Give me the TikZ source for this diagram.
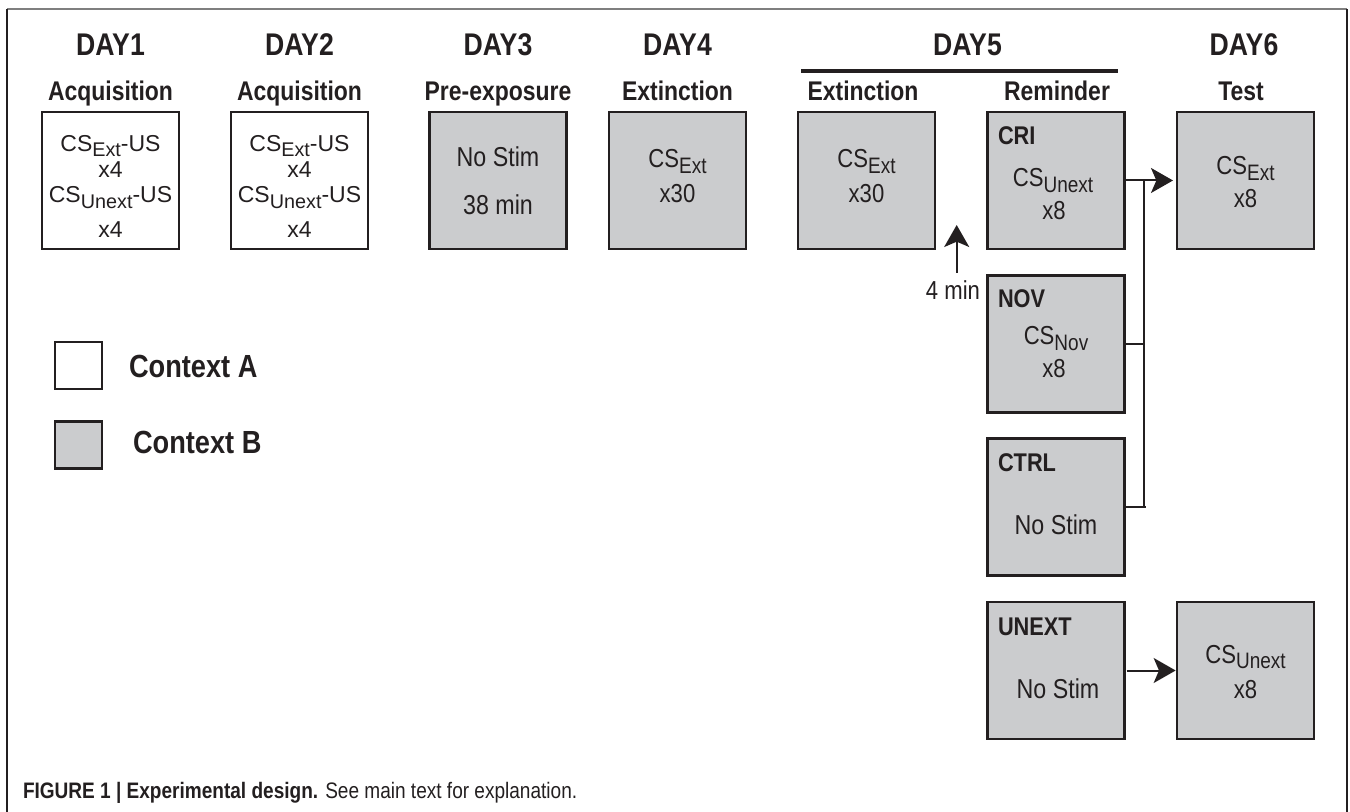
\documentclass[tikz,border=0pt]{standalone}
\usepackage{fontspec}
\setmainfont[FakeStretch=0.85]{Liberation Sans}
\newfontfamily\plainsans{Liberation Sans}
\usetikzlibrary{arrows.meta,calc}
\definecolor{ink}{HTML}{231F20}
\definecolor{ctxb}{HTML}{CBCCCE}
\definecolor{framegray}{HTML}{7F7F7F}
\newcommand\sbs[1]{\raisebox{-0.22em}{\scalebox{0.86}{#1}}}
\newcommand\fsz[1]{\fontsize{#1}{#1}\selectfont}
\tikzset{
  ctxa/.style={draw=ink, fill=white, line width=1.6pt, inner sep=0pt, outer sep=0pt,
    minimum width=102.75pt, minimum height=102.75pt},
  ctxbox/.style={ctxa, fill=ctxb},
  legsq/.style={draw=ink, line width=1.6pt, inner sep=0pt, outer sep=0pt,
    minimum width=35.25pt, minimum height=35.25pt},
  txt/.style={anchor=base, inner sep=0pt, outer sep=0pt, text=ink},
  daylbl/.style={txt, font=\bfseries\fsz{23.5pt}},
  phase/.style={txt, font=\bfseries\fsz{20.25pt}},
  grp/.style={txt, anchor=base west, font=\bfseries\fsz{19.2pt}},
  inbox/.style={txt, font=\fsz{19.5pt}},
  inboxl/.style={txt, font=\fsz{20.5pt}},
  inboxa/.style={txt, font=\plainsans\fsz{17.25pt}},
  leglbl/.style={txt, anchor=base west, font=\bfseries\fsz{24pt}},
  conn/.style={draw=ink, line width=1.5pt},
  arr/.style={conn, -{Stealth[length=16.5pt, width=18.75pt, inset=4pt]}},
}
\begin{document}
\begin{tikzpicture}[x=0.75pt,y=-0.75pt]
\useasboundingbox (0,0) rectangle (1350,812);
% frame
\coordinate (ftl) at (7,9);
\coordinate (ftr) at (1347,9);
\coordinate (fbl) at (7,812);
\coordinate (fbr) at (1347,812);
\draw[framegray, line width=2pt] (ftl) -- (ftr);
\draw[ink, line width=1.6pt] (ftl) -- (fbl);
\draw[ink, line width=1.6pt] (ftr) -- (fbr);

% day headings
\node[daylbl] (day1) at (110.5,56) {DAY1};
\node[daylbl] (day2) at (299.5,56) {DAY2};
\node[daylbl] (day3) at (498,56) {DAY3};
\node[daylbl] (day4) at (677.5,56) {DAY4};
\node[daylbl] (day5) at (967.5,56) {DAY5};
\node[daylbl] (day6) at (1244,56) {DAY6};
\coordinate (barl) at (801,71);
\coordinate (barr) at (1118,71);
\draw[ink, line width=3.2pt] (barl) -- (barr);

% phase labels
\node[phase] (ph1) at (110.5,101) {Acquisition};
\node[phase] (ph2) at (299.5,101) {Acquisition};
\node[phase] (ph3) at (498,101) {Pre-exposure};
\node[phase] (ph4) at (677.5,101) {Extinction};
\node[phase] (ph5) at (863,101) {Extinction};
\node[phase] (ph6) at (1057,101) {Reminder};
\node[phase] (ph7) at (1241,101) {Test};

% boxes
\node[ctxa] (b1) at (110.5,180.5) {};
\node[ctxa] (b2) at (299.5,180.5) {};
\node[ctxbox] (b3) at (498,180.5) {};
\node[ctxbox] (b4) at (677.5,180.5) {};
\node[ctxbox] (b5) at (866.5,180.5) {};
\node[ctxbox] (cri) at (1056,180.5) {};
\node[ctxbox] (test) at (1245.5,180.5) {};
\node[ctxbox] (nov) at (1056,344) {};
\node[ctxbox] (ctrl) at (1056,507) {};
\node[ctxbox] (unext) at (1056,670.5) {};
\node[ctxbox] (test2) at (1245.5,670.5) {};

% box 1 text
\node[inboxa] (b1a) at (110.5,151.5) {CS\sbs{Ext}-US};
\node[inboxa] (b1b) at (110.5,178) {x4};
\node[inboxa] (b1c) at (110.5,203) {CS\sbs{Unext}-US};
\node[inboxa] (b1d) at (110.5,237.5) {x4};
% box 2 text
\node[inboxa] (b2a) at (299.5,151.5) {CS\sbs{Ext}-US};
\node[inboxa] (b2b) at (299.5,178) {x4};
\node[inboxa] (b2c) at (299.5,203) {CS\sbs{Unext}-US};
\node[inboxa] (b2d) at (299.5,237.5) {x4};
% box 3
\node[inboxl] (b3a) at (498,166.5) {No Stim};
\node[inboxl] (b3b) at (498,215) {38 min};
% box 4
\node[inbox] (b4a) at (677.5,168) {CS\sbs{Ext}};
\node[inbox] (b4b) at (677.5,203) {x30};
% box 5
\node[inbox] (b5a) at (866.5,168) {CS\sbs{Ext}};
\node[inbox] (b5b) at (866.5,203) {x30};
% CRI
\node[grp] (cril) at (998,145) {CRI};
\node[inbox] (cria) at (1053,186.5) {CS\sbs{Unext}};
\node[inbox] (crib) at (1054,220) {x8};
% test
\node[inbox] (testa) at (1245.5,175) {CS\sbs{Ext}};
\node[inbox] (testb) at (1245.5,208) {x8};
% NOV
\node[grp] (novl) at (998,308) {NOV};
\node[inbox] (nova) at (1056,345) {CS\sbs{Nov}};
\node[inbox] (novb) at (1054,378) {x8};
% CTRL
\node[grp] (ctrll) at (998,471.5) {CTRL};
\node[inboxl] (ctrla) at (1056,535) {No Stim};
% UNEXT
\node[grp] (unextl) at (998,635) {UNEXT};
\node[inboxl] (unexta) at (1058,698) {No Stim};
% test2
\node[inbox] (test2a) at (1245.5,663) {CS\sbs{Unext}};
\node[inbox] (test2b) at (1245.5,698) {x8};

% 4 min arrow
\node[inbox, anchor=base east] (fourmin) at (980,300) {4 min};
\coordinate (upstart) at (956.7,273);
\coordinate (uptip) at (956.7,225);
\draw[arr] (upstart) -- (uptip);

% connectors
\coordinate (jx) at (1143.5,0);
\draw[arr, shorten >=3pt] (cri.east) -- (test.west);
\draw[conn] (nov.east) -- (nov.east -| jx);
\draw[conn] (ctrl.east -| jx) ++(2,0) -- (ctrl.east);
\draw[conn] (jx |- ctrl.east) -- (jx |- cri.east);
\draw[arr, shorten <=1.5pt, shorten >=1pt] (unext.east) -- (test2.west);

% legend
\node[legsq, fill=white] (lega) at (78.5,365.5) {};
\node[legsq, fill=ctxb] (legb) at (78.5,445) {};
\node[leglbl] (legat) at (129,378) {Context A};
\node[leglbl] (legbt) at (133,454) {Context B};

% caption
\node[txt, anchor=base west, font=\fsz{16.8pt}] (cap) at (23,798)
  {\textbf{FIGURE 1 | Experimental design.} See main text for explanation.};
\end{tikzpicture}
\end{document}
